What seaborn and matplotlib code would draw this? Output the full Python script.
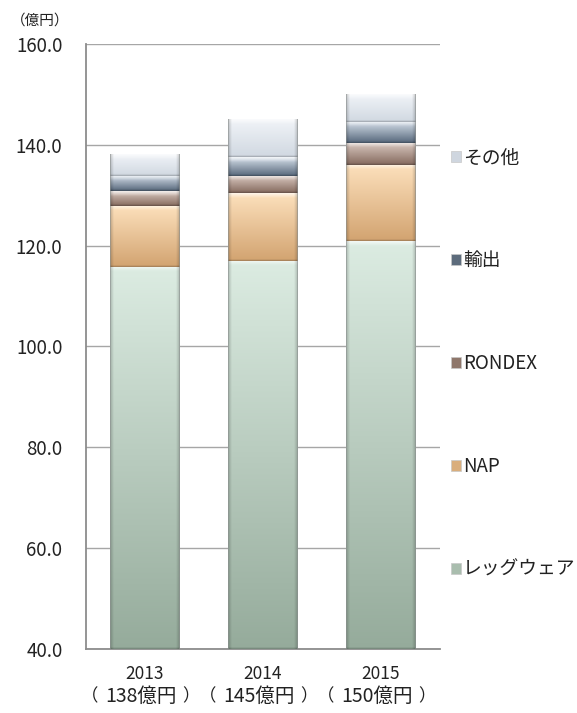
import numpy as np
import pandas as pd
import matplotlib
matplotlib.use("Agg")
import matplotlib.pyplot as plt
import matplotlib.transforms as mtransforms
import seaborn as sns
from matplotlib.colors import to_rgb
from matplotlib.patches import Patch

# Sales by segment (億円)
years = ["2013", "2014", "2015"]
totals = [138, 145, 150]
segments = ["レッグウェア", "NAP", "RONDEX", "輸出", "その他"]
legwear = [115.8, 117.0, 120.9]
nap = [12.1, 13.4, 15.1]
rondex = [2.9, 3.4, 4.4]
export = [3.0, 3.7, 4.2]
other = [4.2, 7.5, 5.5]

# Bevel-style gradient colours per segment (top / bottom) and flat legend swatches
top_colors = ["#dcece2", "#fde1bd", "#dccbc3", "#d9e2ec", "#f1f4f8"]
bottom_colors = ["#95ab9b", "#d2a370", "#84695d", "#55667a", "#d0d8e1"]
swatch_colors = ["#a9bdae", "#d9ae7d", "#8f776b", "#5d6c7c", "#cfd6df"]

sns.set_style("white")
plt.rcParams["font.family"] = ["Noto Sans CJK JP", "DejaVu Sans"]

W, H = 577, 713
fig = plt.figure(figsize=(W / 100, H / 100), dpi=100)
ax_l, ax_b, ax_w, ax_h = 86, 64, 354, 605
ax = fig.add_axes([ax_l / W, ax_b / H, ax_w / W, ax_h / H])

ymin, ymax = 40, 160
series = [legwear, nap, rondex, export, other]

bottom = np.zeros(len(years))
seg_patches = []
for name, vals, c in zip(segments, series, swatch_colors):
    df = pd.DataFrame({"year": years, "value": vals})
    n0 = len(ax.patches)
    sns.barplot(data=df, x="year", y="value", bottom=bottom, color=c,
                width=0.59, saturation=1, linewidth=0, zorder=3, ax=ax)
    seg_patches.append(ax.patches[n0:])
    bottom = bottom + np.array(vals)

ax.set_xlim(-0.5, len(years) - 0.5)
ax.set_ylim(ymin, ymax)

px_per_y = ax_h / (ymax - ymin)
px_per_x = ax_w / len(years)


def bevel_image(top, bot, hpx, wpx):
    rows = max(int(round(hpx)), 2)
    cols = max(int(round(wpx)), 2)
    top = np.array(to_rgb(top))
    bot = np.array(to_rgb(bot))
    d = np.arange(rows)[:, None] + 0.5
    t = d / rows
    base = top * (1 - t) + bot * t
    hl = np.clip(1 - d / 5.0, 0, 1) * 0.7
    base = base * (1 - hl) + hl
    dk = np.clip(1 - (rows - d) / 2.0, 0, 1) * 0.25
    base = base * (1 - dk)
    img = np.repeat(base[:, None, :], cols, axis=1)
    xc = np.arange(cols) + 0.5
    e = np.minimum(xc, cols - xc)
    side = np.clip(1 - e / 4.0, 0, 1) * 0.22
    img = img * (1 - side[None, :, None])
    edge = np.clip(1 - e / 1.2, 0, 1)[None, :, None]
    img = img * (1 - edge) + np.array(to_rgb("#8f9493")) * edge
    return np.clip(img, 0, 1)


for patches, tc, bc in zip(seg_patches, top_colors, bottom_colors):
    for p in patches:
        x0, y0 = p.get_x(), p.get_y()
        w, h = p.get_width(), p.get_height()
        lo = max(y0, ymin)
        hi = y0 + h
        img = bevel_image(tc, bc, (hi - lo) * px_per_y, w * px_per_x)
        ax.imshow(img, extent=[x0, x0 + w, lo, hi], aspect="auto",
                  interpolation="bilinear", zorder=3.5, origin="upper")

ax.set_xlim(-0.5, len(years) - 0.5)
ax.set_ylim(ymin, ymax)
ax.set_yticks(np.arange(ymin, ymax + 1, 20))
ax.set_yticklabels([f"{v:.1f}" for v in np.arange(ymin, ymax + 1, 20)])
ax.set_axisbelow(True)
ax.yaxis.grid(True, color="#a6a6a6", linewidth=1)
ax.xaxis.grid(False)
for s in ["top", "right"]:
    ax.spines[s].set_visible(False)
for s in ["left", "bottom"]:
    ax.spines[s].set_color("#8c8c8c")
    ax.spines[s].set_linewidth(1.3)
ax.tick_params(axis="y", length=0, pad=17, labelsize=13.5, labelcolor="#222222")
ax.tick_params(axis="x", length=0, pad=11.5, labelsize=12.5, labelcolor="#222222")
ax.set_xlabel("")
ax.set_ylabel("")

# Yearly totals under each year label, with wide full-width brackets
trans = mtransforms.blended_transform_factory(ax.transData, ax.transAxes)
y_tot = -47 / ax_h
tot_kw = dict(xycoords=trans, textcoords="offset points", va="center",
              color="#222222")
for i, t in enumerate(totals):
    ax.annotate(f"{t}億円", (i, y_tot), xytext=(-3.2, 0), ha="center",
                fontsize=14, **tot_kw)
    ax.annotate("（", (i, y_tot), xytext=(-33.6, 0), ha="right",
                fontsize=12.5, **tot_kw)
    ax.annotate("）", (i, y_tot), xytext=(26.6, 0), ha="left",
                fontsize=12.5, **tot_kw)

fig.text(11 / W, 1 - 21 / H, "（億円）", fontsize=10.5, color="#222222",
         va="center", ha="left")

handles = [Patch(facecolor=c, edgecolor="#c8c8c8", linewidth=0.5)
           for c in swatch_colors][::-1]
ax.legend(handles, segments[::-1], loc="center left",
          bbox_to_anchor=(1 + 11 / ax_w, 0.4717),
          frameon=False, fontsize=13.5, handlelength=0.53, handleheight=0.53,
          handletextpad=0.1, labelspacing=4.365, borderpad=0, borderaxespad=0,
          labelcolor="#222222")

fig.savefig("out.png", dpi=100)
